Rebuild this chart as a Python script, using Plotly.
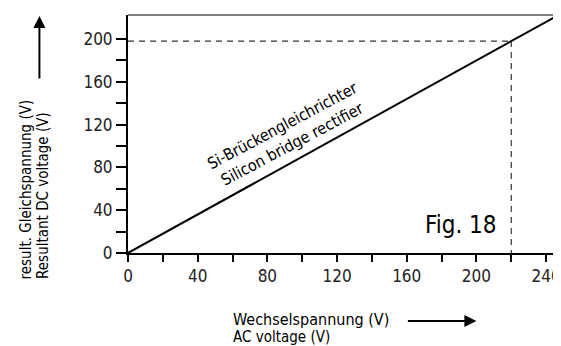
import plotly.graph_objects as go

# Data
ac_voltage = [0, 247.4]
dc_voltage = [0, 222.6]          # DC = 0.9 * AC
marker_ac = [0, 220, 220]
marker_dc = [198, 198, 0]
x_ticks = [0, 20, 40, 60, 80, 100, 120, 140, 160, 180, 200, 220, 240]
x_labels = ["0", "", "40", "", "80", "", "120", "", "160", "", "200", "", "240"]
y_ticks = [0, 20, 40, 60, 80, 100, 120, 140, 160, 180, 200]
y_labels = ["0", "", "40", "", "80", "", "120", "", "160", "", "200"]

FONT = "DejaVu Sans Condensed"
OFF = 8  # page body margin

fig = go.Figure()
fig.add_trace(go.Scatter(x=[marker_ac[0], marker_ac[1]], y=[marker_dc[0], marker_dc[1]],
                         mode="lines", line=dict(color="#333", width=1.2, dash="6px,5px"),
                         hoverinfo="skip", showlegend=False))
fig.add_trace(go.Scatter(x=[marker_ac[1], marker_ac[2]], y=[marker_dc[1], marker_dc[2]],
                         mode="lines", line=dict(color="#333", width=1.2, dash="6px,5px"),
                         hoverinfo="skip", showlegend=False))
fig.add_trace(go.Scatter(x=ac_voltage, y=dc_voltage, mode="lines",
                         line=dict(color="black", width=2), showlegend=False))

L, T, W, H = 128 - OFF, 15 - OFF, 433, 238
FW, FH = 561 - OFF, 346 - OFF

def px(x):
    return (x - OFF - L) / W

def py(y):
    return (T + H - (y - OFF)) / H

annotations = [
    dict(x=91.4, y=110, xref="x", yref="y", text="Si-Brückengleichrichter<br>Silicon bridge rectifier",
         showarrow=False, textangle=-28, font=dict(size=16, family=FONT, color="black"),
         align="center", xanchor="center", yanchor="middle"),
    dict(x=191, y=26, xref="x", yref="y", text="Fig. 18", showarrow=False,
         xanchor="center", yanchor="middle",
         font=dict(size=24, family=FONT, color="black")),
    dict(x=px(26), y=py(280), xref="paper", yref="paper",
         text="result. Gleichspannung (V)", showarrow=False, xanchor="center", yanchor="bottom",
         textangle=-90, borderpad=0, font=dict(size=15, family=FONT, color="black")),
    dict(x=px(42), y=py(280), xref="paper", yref="paper",
         text="Resultant DC voltage (V)", showarrow=False, xanchor="center", yanchor="bottom",
         textangle=-90, borderpad=0, font=dict(size=15, family=FONT, color="black")),
    dict(x=px(39), y=py(16), xref="paper", yref="paper", text="", showarrow=True,
         ax=0, ay=64, arrowhead=2, arrowsize=1.2, arrowwidth=2, arrowcolor="black"),
    dict(x=px(232), y=py(319), xref="paper", yref="paper", xanchor="left", yanchor="middle",
         text="Wechselspannung (V)", showarrow=False, borderpad=0,
         font=dict(size=16, family=FONT, color="black")),
    dict(x=px(232), y=py(337), xref="paper", yref="paper", xanchor="left", yanchor="middle",
         text="AC voltage (V)", showarrow=False, borderpad=0,
         font=dict(size=15, family=FONT, color="black")),
    dict(x=px(478), y=py(321), xref="paper", yref="paper", text="", showarrow=True,
         ax=-70, ay=0, arrowhead=2, arrowsize=1.2, arrowwidth=2, arrowcolor="black"),
]

fig.update_layout(
    width=FW, height=FH,
    margin=dict(l=L, r=max(FW - L - W, 0), t=T, b=FH - T - H, pad=0),
    paper_bgcolor="white", plot_bgcolor="white",
    font=dict(family=FONT, size=15, color="black"),
    annotations=annotations,
    shapes=[dict(type="line", xref="paper", yref="paper", x0=0, x1=1, y0=1, y1=1,
                 line=dict(color="#555", width=1.5))],
    xaxis=dict(range=[0, 247.4], tickvals=x_ticks, ticktext=x_labels, ticks="outside",
               ticklen=7, tickwidth=1.5, tickcolor="black", showline=True, linecolor="black",
               linewidth=2, showgrid=False, zeroline=False, fixedrange=True,
               ticklabeloverflow="allow",
               tickfont=dict(size=17, family=FONT, color="#222")),
    yaxis=dict(range=[0, 222.4], tickvals=y_ticks, ticktext=y_labels, ticks="outside",
               ticklen=10, tickwidth=1.5, tickcolor="black", showline=True, linecolor="black",
               linewidth=2, showgrid=False, zeroline=False, fixedrange=True,
               tickfont=dict(size=17, family=FONT, color="#222")),
)

fig.write_html("out.html")
